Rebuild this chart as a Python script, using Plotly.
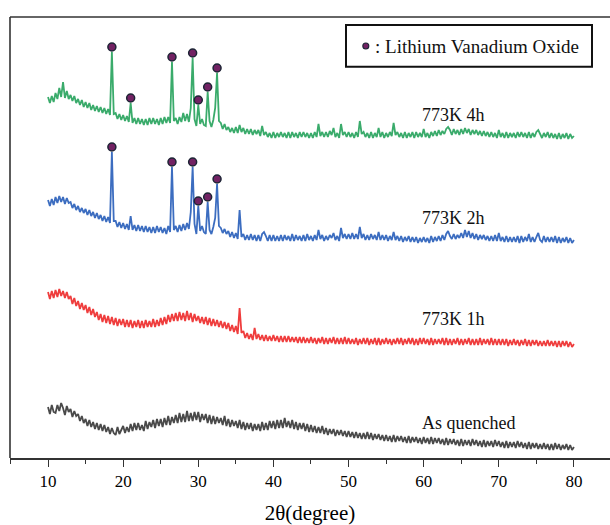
import numpy as np
import plotly.graph_objects as go

# 2-theta grid (degrees), 0.25 deg step from 10 to 80
two_theta = np.round(np.arange(10, 80.001, 0.25), 2)

# Intensities (a.u.), one row per degree (4 points/row)
as_quenched = [
    51, 44, 53, 46,  45, 53, 47, 55,  50, 43, 52, 46,  49, 41, 47, 42,  44, 37, 42, 35,
    39, 32, 38, 31,  36, 29, 35, 28,  34, 27, 33, 26,  31, 24, 30, 25,  23, 31, 24, 29,
    32, 25, 31, 26,  34, 27, 35, 28,  35, 28, 33, 27,  37, 29, 36, 31,  38, 30, 39, 32,
    39, 31, 40, 33,  42, 33, 41, 35,  43, 35, 45, 36,  44, 36, 47, 37,  45, 37, 46, 38,
    46, 36, 44, 38,  44, 35, 43, 34,  42, 34, 41, 35,  40, 33, 42, 32,  39, 31, 38, 32,
    37, 30, 38, 29,  36, 28, 35, 29,  35, 27, 34, 28,  34, 27, 36, 28,  35, 28, 37, 30,
    37, 29, 38, 30,  38, 30, 40, 31,  37, 30, 38, 29,  36, 28, 35, 29,  35, 27, 34, 26,
    33, 26, 32, 25,  31, 25, 32, 24,  30, 23, 29, 24,  29, 22, 28, 23,  28, 22, 27, 21,
    27, 21, 26, 20,  26, 20, 25, 19,  25, 19, 26, 19,  25, 18, 24, 19,  24, 18, 23, 17,
    23, 17, 22, 16,  23, 16, 22, 17,  22, 16, 21, 15,  22, 15, 21, 16,  21, 15, 20, 14,
    21, 15, 20, 14,  21, 14, 20, 15,  20, 14, 19, 13,  20, 13, 19, 14,  19, 13, 18, 12,
    19, 12, 18, 13,  18, 12, 19, 13,  18, 12, 17, 11,  18, 11, 17, 12,  17, 11, 18, 12,
    17, 11, 16, 10,  17, 10, 16, 11,  16, 10, 17, 11,  16, 10, 15, 9,   16, 9, 15, 10,
    15, 9, 14, 9,    15, 9, 14, 8,    14, 8, 15, 9,    14, 8, 13, 9,    14, 8, 13, 8,
    11,
]

k773_1h = [
    56, 49, 57, 50,  58, 51, 59, 52,  57, 50, 56, 49,  52, 44, 50, 42,  47, 39, 45, 38,
    43, 35, 41, 33,  39, 31, 36, 28,  34, 26, 33, 25,  32, 24, 31, 23,  30, 22, 29, 23,
    29, 21, 28, 21,  28, 20, 27, 21,  28, 20, 27, 20,  28, 21, 27, 21,  29, 21, 28, 22,
    30, 23, 31, 24,  33, 26, 34, 27,  35, 27, 36, 28,  35, 27, 37, 28,  35, 26, 34, 27,
    32, 25, 31, 24,  31, 23, 30, 22,  29, 22, 28, 21,  27, 20, 26, 19,  25, 17, 23, 16,
    22, 14, 40, 15,  17, 10, 15, 9,   14, 8, 20, 9,    14, 8, 13, 7,    13, 7, 12, 7,
    13, 7, 12, 6,    12, 6, 12, 6,    12, 6, 11, 6,    11, 5, 11, 5,    11, 5, 10, 5,
    11, 5, 10, 4,    10, 5, 11, 4,    10, 4, 10, 5,    11, 4, 10, 4,    10, 4, 11, 4,
    10, 4, 9, 4,     10, 3, 9, 4,     10, 4, 10, 3,    9, 4, 10, 3,     10, 3, 9, 4,
    10, 4, 9, 3,     9, 4, 10, 4,     10, 3, 9, 4,     10, 4, 10, 3,    9, 3, 10, 4,
    10, 4, 9, 3,     10, 3, 9, 4,     9, 4, 10, 3,     10, 3, 9, 3,     9, 4, 10, 3,
    9, 3, 9, 4,      10, 3, 9, 3,     9, 3, 10, 3,     9, 4, 9, 3,      10, 3, 9, 3,
    9, 3, 9, 3,      9, 2, 8, 3,      9, 3, 8, 2,      8, 3, 9, 2,      8, 2, 8, 3,
    8, 2, 7, 2,      7, 2, 8, 2,      7, 2, 7, 1,      7, 1, 7, 2,      7, 1, 6, 1,
    4,
]

k773_2h = [
    48, 42, 49, 43,  51, 45, 52, 46,  51, 44, 50, 45,  46, 40, 44, 38,  42, 36, 40, 35,
    39, 33, 38, 32,  36, 30, 35, 29,  33, 27, 32, 26,  31, 25, 96, 27,  27, 21, 26, 20,
    25, 19, 24, 18,  32, 18, 23, 17,  23, 17, 22, 16,  22, 16, 21, 15,  21, 15, 22, 16,
    21, 15, 20, 14,  22, 16, 81, 18,  22, 16, 23, 17,  24, 18, 25, 19,  36, 81, 24, 14,
    42, 17, 22, 16,  14, 46, 18, 14,  21, 30, 64, 22,  20, 15, 19, 14,  17, 11, 16, 10,
    15, 9, 38, 11,   14, 8, 13, 8,    14, 8, 13, 7,    13, 7, 14, 16,   12, 7, 13, 7,
    13, 7, 12, 7,    13, 7, 13, 8,    12, 7, 14, 7,    13, 8, 12, 7,    13, 7, 14, 8,
    12, 7, 13, 8,    18, 9, 13, 7,    12, 8, 13, 10,   15, 8, 12, 7,    20, 10, 14, 9,
    14, 9, 15, 9,    14, 9, 21, 10,   14, 8, 13, 8,    14, 9, 13, 8,    16, 8, 13, 8,
    13, 7, 12, 8,    16, 8, 12, 7,    12, 6, 11, 7,    12, 6, 11, 6,    11, 5, 10, 6,
    11, 6, 10, 5,    12, 6, 11, 7,    12, 7, 13, 8,    14, 17, 12, 9,   14, 9, 13, 10,
    15, 10, 18, 11,  17, 10, 15, 9,   14, 8, 13, 9,    13, 8, 12, 7,    12, 7, 13, 7,
    15, 7, 11, 6,    12, 6, 11, 6,    11, 6, 12, 5,    12, 6, 11, 7,    14, 6, 11, 6,
    11, 15, 8, 6,    12, 6, 11, 6,    11, 6, 12, 5,    11, 5, 10, 6,    11, 5, 10, 5,
    8,
]

k773_4h = [
    51, 45, 52, 46,  55, 49, 60, 51,  66, 50, 57, 49,  53, 47, 52, 45,  49, 43, 48, 41,
    46, 40, 45, 38,  43, 37, 42, 36,  41, 35, 40, 34,  39, 33, 96, 34,  35, 29, 34, 28,
    33, 27, 32, 26,  45, 25, 30, 24,  30, 24, 29, 23,  29, 23, 30, 24,  30, 24, 29, 23,
    30, 24, 31, 25,  31, 25, 86, 27,  30, 24, 31, 26,  35, 27, 34, 26,  40, 90, 29, 22,
    43, 24, 29, 23,  22, 56, 27, 21,  28, 40, 75, 27,  25, 19, 24, 18,  21, 16, 20, 15,
    21, 15, 23, 16,  20, 14, 19, 14,  19, 13, 18, 14,  18, 12, 22, 13,  16, 11, 15, 10,
    16, 10, 15, 11,  16, 11, 15, 10,  16, 10, 16, 11,  15, 10, 16, 11,  16, 11, 15, 10,
    15, 10, 16, 11,  24, 12, 16, 11,  16, 11, 17, 13,  20, 11, 15, 10,  24, 13, 16, 11,
    16, 11, 15, 10,  16, 11, 27, 14,  16, 11, 15, 10,  16, 10, 15, 11,  20, 11, 16, 10,
    15, 11, 16, 12,  25, 13, 16, 11,  15, 10, 16, 10,  15, 11, 16, 10,  16, 11, 15, 11,
    19, 11, 15, 10,  16, 12, 17, 12,  18, 13, 17, 14,  19, 21, 18, 13,  19, 14, 18, 13,
    19, 14, 20, 15,  19, 13, 18, 14,  18, 13, 17, 12,  17, 12, 16, 11,  16, 11, 15, 10,
    18, 11, 15, 10,  16, 10, 15, 11,  15, 10, 16, 11,  16, 11, 15, 10,  16, 10, 15, 11,
    16, 18, 14, 10,  15, 11, 16, 10,  15, 10, 14, 9,   15, 9, 14, 10,   15, 9, 14, 10,
    12,
]

# Lithium Vanadium Oxide peak positions (2-theta) marked on each pattern
lvo_peaks_4h = [18.5, 21.0, 26.5, 29.25, 30.0, 31.25, 32.5]
lvo_peaks_2h = [18.5, 26.5, 29.25, 30.0, 31.25, 32.5]

series_names = ["As quenched", "773K 1h", "773K 2h", "773K 4h"]
x_ticks = [10, 20, 30, 40, 50, 60, 70, 80]

# ---- styling / layout (not data) ----
OFFSETS = {"As quenched": 0, "773K 1h": 110, "773K 2h": 210, "773K 4h": 310}
COLORS = {"As quenched": "#4a4a4a", "773K 1h": "#ef3d3d",
          "773K 2h": "#3c6dc0", "773K 4h": "#3aab6b"}
LABEL_Y = {"As quenched": 35, "773K 1h": 139, "773K 2h": 240, "773K 4h": 343}
MARK_GAP = 5
SERIF = "Liberation Serif"
MK_FILL = "#722263"
MK_EDGE = "#1d2535"

data = {"As quenched": as_quenched, "773K 1h": k773_1h,
        "773K 2h": k773_2h, "773K 4h": k773_4h}

fig = go.Figure()
for name in series_names:
    y = np.array(data[name], dtype=float) + OFFSETS[name]
    fig.add_trace(go.Scatter(x=two_theta, y=y, mode="lines", name=name,
                             line=dict(color=COLORS[name], width=1.8),
                             showlegend=False))

def peak_markers(name, peaks):
    vals = np.array(data[name], dtype=float)
    ys = []
    for p in peaks:
        i = int(np.argmin(np.abs(two_theta - p)))
        ys.append(vals[i] + OFFSETS[name] + MARK_GAP)
    return ys

for name, peaks in (("773K 4h", lvo_peaks_4h), ("773K 2h", lvo_peaks_2h)):
    fig.add_trace(go.Scatter(x=peaks, y=peak_markers(name, peaks), mode="markers",
                             marker=dict(size=8, color=MK_FILL,
                                         line=dict(color=MK_EDGE, width=1.5)),
                             showlegend=False, cliponaxis=False))

# legend key marker
fig.add_trace(go.Scatter(x=[52.3], y=[412], mode="markers",
                         marker=dict(size=6, color=MK_FILL,
                                     line=dict(color=MK_EDGE, width=1.1)),
                         showlegend=False))

for name in series_names:
    fig.add_annotation(x=59.5, y=LABEL_Y[name], text=name, showarrow=False,
                       xanchor="left", yanchor="middle",
                       font=dict(family=SERIF, size=18, color="#111"))

fig.add_annotation(x=53.2, y=412, text=": Lithium Vanadium Oxide", showarrow=False,
                   xanchor="left", yanchor="middle",
                   font=dict(family=SERIF, size=19, color="#111"))

# legend box and frame lines
fig.add_shape(type="rect", xref="paper", yref="paper", x0=0.56, x1=0.97,
              y0=0.887, y1=0.982, line=dict(color="#111", width=2))
fig.add_shape(type="line", xref="paper", yref="paper", x0=0, x1=0, y0=0, y1=1,
              line=dict(color="#333", width=1.6))
fig.add_shape(type="line", xref="paper", yref="paper", x0=0, x1=1.05, y0=1, y1=1,
              line=dict(color="#333", width=1.6))

fig.update_layout(
    width=610, height=525,
    margin=dict(l=10, r=0, t=17, b=67),
    paper_bgcolor="white", plot_bgcolor="white",
    xaxis=dict(range=[4.94, 84.8], tickvals=x_ticks, ticks="outside", ticklen=7,
               tickwidth=1.3, tickcolor="#333", showline=True, linecolor="#333",
               linewidth=1.6, showgrid=False, zeroline=False,
               minor=dict(ticks="outside", ticklen=4, dtick=5, tick0=5,
                          tickcolor="#333", tickwidth=1.2, showgrid=False),
               tickfont=dict(family=SERIF, size=17, color="#000"),
               title=dict(text="2θ(degree)", standoff=18,
                          font=dict(family=SERIF, size=21, color="#000"))),
    yaxis=dict(range=[0, 441], visible=False),
)

fig.write_html("out.html", config={"displayModeBar": False},
               post_script="document.body.style.margin='0';document.body.style.overflow='hidden';")
